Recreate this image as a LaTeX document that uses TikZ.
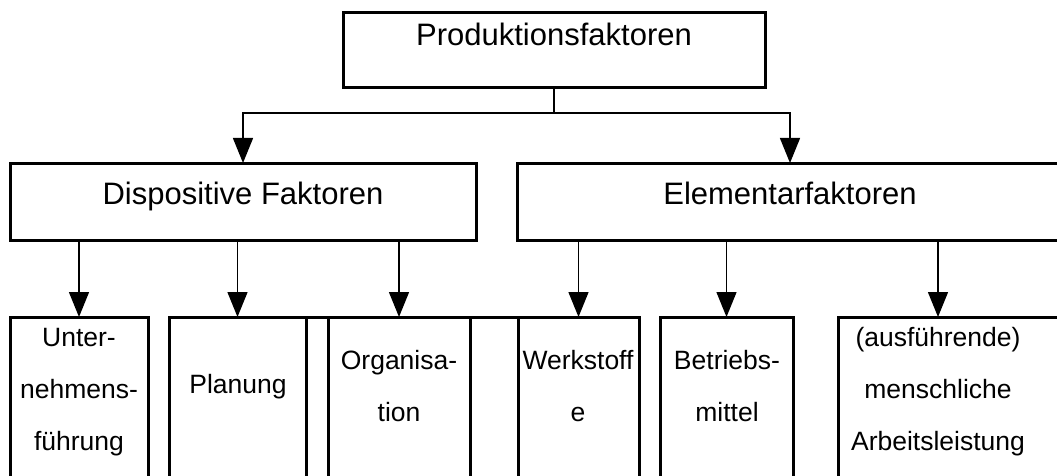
\documentclass[tikz,border=0pt]{standalone}
\usepackage{fontspec}
\setmainfont{Liberation Sans}
\usetikzlibrary{arrows.meta}
\begin{document}
\begin{tikzpicture}[x=1pt,y=-1pt,
  box/.style={draw, line width=3pt, rectangle, inner sep=0pt, outer sep=0pt, anchor=north west},
  big/.style={font=\fontsize{31}{36}\selectfont, anchor=base, inner sep=0pt},
  small/.style={font=\fontsize{26.5}{30}\selectfont, anchor=base, inner sep=0pt},
  link/.style={line width=1.4pt},
  arr/.style={link, -{Triangle[width=20pt,length=25pt]}}]
\useasboundingbox (0,0) rectangle (1057,476);
\clip (0,0) rectangle (1057,476);

% first level
\node[box, minimum width=422pt, minimum height=75pt] (p) at (343,13) {};
\node[big] (pt) at (554,46) {Produktionsfaktoren};

% second level
\node[box, minimum width=466pt, minimum height=77pt] (d) at (10,163) {};
\node[big] (dt) at (243,204) {Dispositive Faktoren};
\node[box, minimum width=546pt, minimum height=77pt] (e) at (517,163) {};
\node[big] (et) at (790,204) {Elementarfaktoren};

% third level
\node[box, minimum width=138pt, minimum height=200pt] (b1) at (10,317) {};
\node[box, minimum width=137pt, minimum height=200pt] (b2) at (169,317) {};
\node[box, minimum width=142pt, minimum height=200pt] (b3) at (328,317) {};
\node[box, minimum width=121pt, minimum height=200pt] (b4) at (518,317) {};
\node[box, minimum width=133pt, minimum height=200pt] (b5) at (660,317) {};
\node[box, minimum width=232pt, minimum height=200pt] (b6) at (838,317) {};
\draw[line width=3pt] (b2.north west) -- (b4.north east);

\node[small] (t1a) at (79,346) {Unter-};
\node[small] (t1b) at (79,398) {nehmens-};
\node[small] (t1c) at (79,450) {führung};
\node[small] (t2a) at (238,393) {Planung};
\node[small] (t3a) at (399,369) {Organisa-};
\node[small] (t3b) at (399,421) {tion};
\node[small] (t4a) at (578,369) {Werkstoff};
\node[small] (t4b) at (578,421) {e};
\node[small] (t5a) at (727,369) {Betriebs-};
\node[small] (t5b) at (727,421) {mittel};
\node[small] (t6a) at (938,346) {(ausführende)};
\node[small] (t6b) at (938,398) {menschliche};
\node[small] (t6c) at (938,450) {Arbeitsleistung};

% connectors
\coordinate (j) at (554,113);
\draw[link] (p.south) -- (j);
\draw[arr] (j) -| (d.north);
\draw[arr] (j) -| (e.north);

\draw[arr] (d.south -| b1.north) -- (b1.north);
\draw[arr] (d.south -| b2.north) -- (b2.north);
\draw[arr] (d.south -| b3.north) -- (b3.north);
\draw[arr] (e.south -| b4.north) -- (b4.north);
\draw[arr] (e.south -| b5.north) -- (b5.north);
\draw[arr] (e.south -| t6a) -- (t6a |- b6.north);
\end{tikzpicture}
\end{document}
